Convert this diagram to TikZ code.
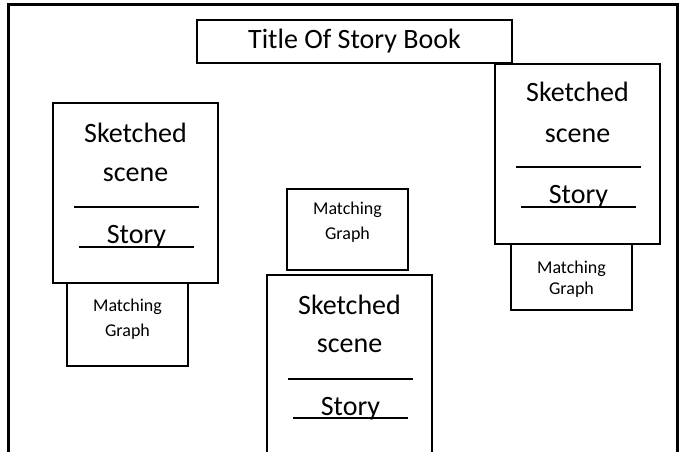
\documentclass[tikz,border=0pt]{standalone}
\usepackage{fontspec}
\setmainfont{Carlito}
\usetikzlibrary{positioning}

\begin{document}
\begin{tikzpicture}[x=1pt, y=-1pt]

% Define styles
\tikzstyle{border} = [draw=black, line width=3pt]
\tikzstyle{titlebox} = [rectangle, draw=black, fill=white, line width=1.3pt, outer sep=0pt, minimum width=315pt, minimum height=43pt, inner sep=0pt, font=\fontsize{28}{34}\selectfont]
\tikzstyle{sketch} = [rectangle, draw=black, fill=white, line width=1.3pt, outer sep=0pt, minimum width=165pt, minimum height=180pt]
\tikzstyle{graphbox} = [rectangle, draw=black, fill=white, line width=1.3pt, outer sep=0pt, minimum width=121pt]
\tikzstyle{bigtext} = [inner sep=0pt, anchor=base, font=\fontsize{28}{34}\selectfont]
\tikzstyle{smalltext} = [inner sep=0pt, anchor=base, font=\fontsize{18}{22}\selectfont]
\tikzstyle{divider} = [line width=1.3pt]

% PAGE
\useasboundingbox (0,0) rectangle (685,452);
\clip (0,0) rectangle (685,452);
\fill [white] (0,0) rectangle (685,452);
\draw [border] (8,470) -- (8,5) -- (677,5) -- (677,470);

% TITLE
\node (title) [titlebox] at (354.5,41.5) {Title Of Story Book};

% LEFT PAGE
\node (sketchL) [sketch] at (135.5,193) {};
\node (graphL) [graphbox, minimum height=83pt, below=0pt of sketchL, xshift=-8pt] {};
\node (sketchedL) [bigtext] at ([yshift=-39pt]sketchL.north) {Sketched};
\node (sceneL) [bigtext] at ([yshift=-78pt]sketchL.north) {scene};
\draw [divider] ([xshift=21pt, yshift=-104pt]sketchL.north west) -- ([xshift=146pt, yshift=-104pt]sketchL.north west);
\node (storyL) [bigtext] at ([xshift=1pt, yshift=-140pt]sketchL.north) {Story};
\draw [divider] ([xshift=26pt, yshift=-144pt]sketchL.north west) -- ([xshift=141pt, yshift=-144pt]sketchL.north west);
\node (matchingL) [smalltext] at ([yshift=-28pt]graphL.north) {Matching};
\node (graphtxtL) [smalltext] at ([yshift=-53pt]graphL.north) {Graph};

% MIDDLE PAGE
\node (sketchM) [sketch] at (349.5,365) {};
\node (graphM) [graphbox, minimum height=81pt, above=5pt of sketchM, xshift=-2pt] {};
\node (sketchedM) [bigtext] at ([yshift=-39pt]sketchM.north) {Sketched};
\node (sceneM) [bigtext] at ([yshift=-77pt]sketchM.north) {scene};
\draw [divider] ([xshift=21pt, yshift=-104pt]sketchM.north west) -- ([xshift=146pt, yshift=-104pt]sketchM.north west);
\node (storyM) [bigtext] at ([xshift=1pt, yshift=-140pt]sketchM.north) {Story};
\draw [divider] ([xshift=26pt, yshift=-143pt]sketchM.north west) -- ([xshift=141pt, yshift=-143pt]sketchM.north west);
\node (matchingM) [smalltext] at ([yshift=-25pt]graphM.north) {Matching};
\node (graphtxtM) [smalltext] at ([yshift=-50pt]graphM.north) {Graph};

% RIGHT PAGE
\node (sketchR) [sketch] at (577.5,154) {};
\node (graphR) [graphbox, minimum height=66pt, below=0pt of sketchR, xshift=-6pt] {};
\node (sketchedR) [bigtext] at ([yshift=-37pt]sketchR.north) {Sketched};
\node (sceneR) [bigtext] at ([yshift=-78pt]sketchR.north) {scene};
\draw [divider] ([xshift=21pt, yshift=-103pt]sketchR.north west) -- ([xshift=146pt, yshift=-103pt]sketchR.north west);
\node (storyR) [bigtext] at ([xshift=1pt, yshift=-139pt]sketchR.north) {Story};
\draw [divider] ([xshift=26pt, yshift=-143pt]sketchR.north west) -- ([xshift=141pt, yshift=-143pt]sketchR.north west);
\node (matchingR) [smalltext] at ([yshift=-29pt]graphR.north) {Matching};
\node (graphtxtR) [smalltext] at ([yshift=-50pt]graphR.north) {Graph};

\end{tikzpicture}
\end{document}
